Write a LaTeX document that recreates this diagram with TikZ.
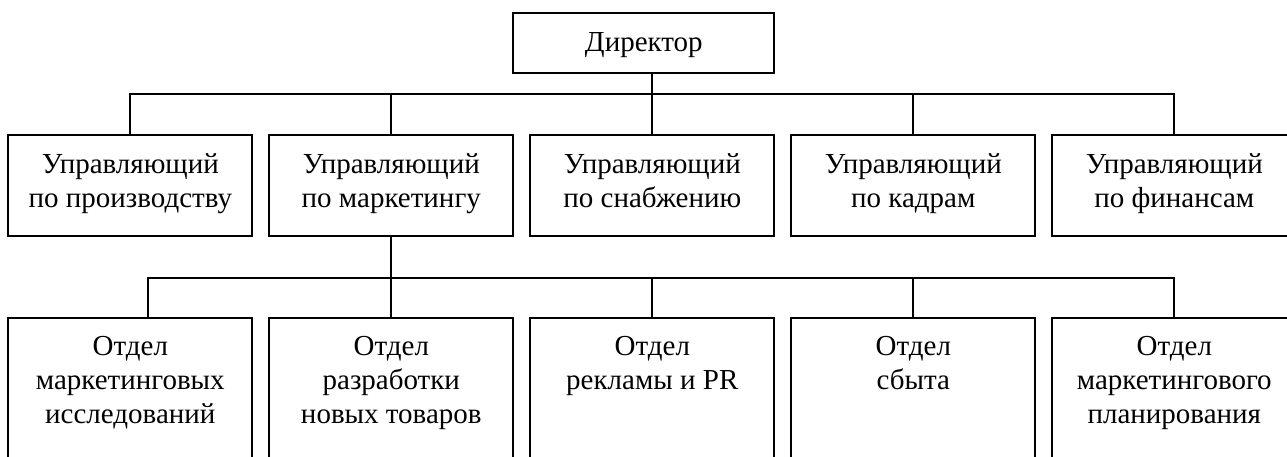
\documentclass[tikz,border=0pt]{standalone}
\usepackage{fontspec}
\setmainfont{Liberation Serif}
\newcommand{\orgbox}[4]{\parbox[c][#2pt][t]{#1pt}{\centering\rule{0pt}{#3pt}#4}}
\begin{document}
\begin{tikzpicture}[x=1pt,y=1pt,
  box/.style={draw, line width=2pt, inner sep=0pt, outer sep=0pt, anchor=north west,
    font=\fontsize{29}{34}\selectfont},
  link/.style={line width=2pt}]
\useasboundingbox (0,0) rectangle (1287,-456);
\fill[white] (0,0) rectangle (1287,-456);
\clip (0,0) rectangle (1287,-456);

% director
\node[box] (dir) at (513.3,-13.3) {\orgbox{261}{60}{38.4}{Директор}};

% managers
\node[box] (m1) at (8.3,-135)    {\orgbox{244}{101}{38.3}{Управляющий\\по производству}};
\node[box] (m2) at (269.3,-135)  {\orgbox{244}{101}{38.3}{Управляющий\\по маркетингу}};
\node[box] (m3) at (530.3,-135)  {\orgbox{244}{101}{38.3}{Управляющий\\по снабжению}};
\node[box] (m4) at (791.3,-135)  {\orgbox{244}{101}{38.3}{Управляющий\\по кадрам}};
\node[box] (m5) at (1052.3,-135) {\orgbox{244}{101}{38.3}{Управляющий\\по финансам}};

% departments
\node[box] (d1) at (8.3,-318.3)    {\orgbox{244}{170}{36.7}{Отдел\\маркетинговых\\исследований}};
\node[box] (d2) at (269.3,-318.3)  {\orgbox{244}{170}{36.7}{Отдел\\разработки\\новых товаров}};
\node[box] (d3) at (530.3,-318.3)  {\orgbox{244}{170}{36.7}{Отдел\\рекламы и PR}};
\node[box] (d4) at (791.3,-318.3)  {\orgbox{244}{170}{36.7}{Отдел\\сбыта}};
\node[box] (d5) at (1052.3,-318.3) {\orgbox{244}{170}{36.7}{Отдел\\маркетингового\\планирования}};

% bus levels
\coordinate (bus1) at (0,-94.3);
\coordinate (bus2) at (0,-277.7);
\coordinate (a1) at ([xshift=140pt]d1.north west);

% director to managers
\draw[link] (m3.north |- dir.south) -- (m3.north);
\draw[link] (m1.north) -- (m1.north |- bus1) -- (m5.north |- bus1) -- (m5.north);
\draw[link] (m2.north) -- (m2.north |- bus1);
\draw[link] (m4.north) -- (m4.north |- bus1);

% marketing manager to departments
\draw[link] (m2.south) -- (d2.north);
\draw[link] (a1) -- (a1 |- bus2) -- (d5.north |- bus2) -- (d5.north);
\draw[link] (d3.north) -- (d3.north |- bus2);
\draw[link] (d4.north) -- (d4.north |- bus2);
\end{tikzpicture}
\end{document}
